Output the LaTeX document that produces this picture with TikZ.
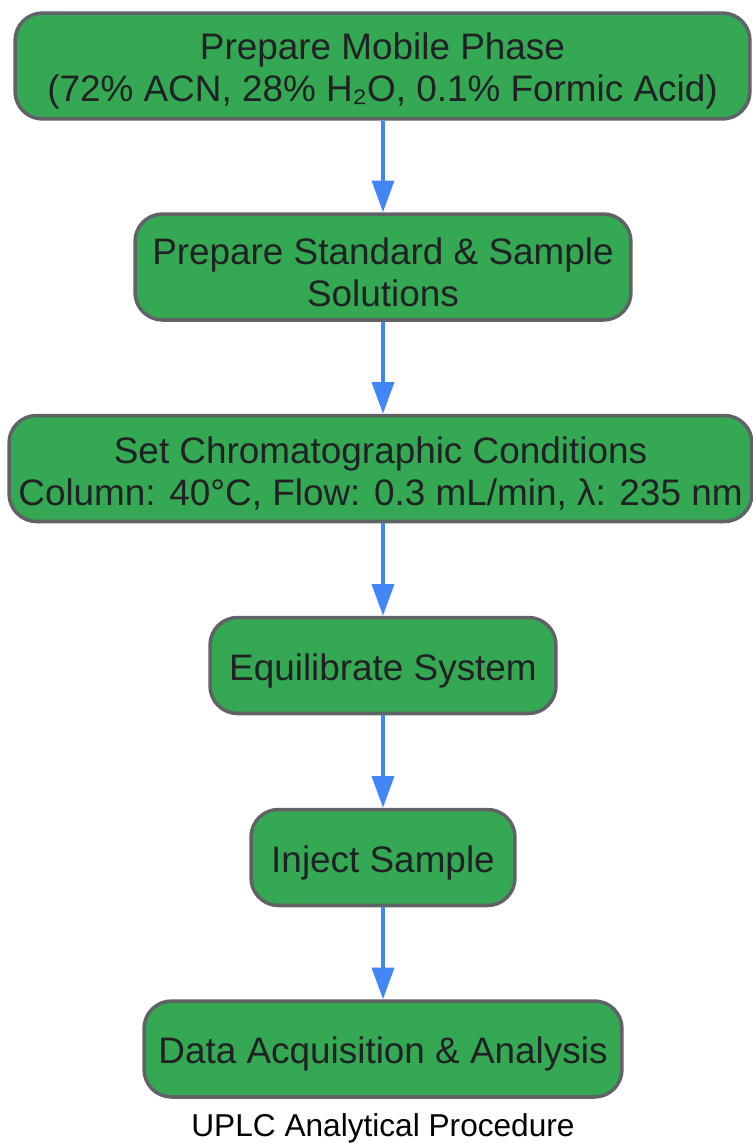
\documentclass[tikz,border=0pt]{standalone}
\usepackage{fontspec}
\setmainfont{Liberation Sans}
\usetikzlibrary{arrows.meta}
\definecolor{boxgreen}{HTML}{34A853}
\definecolor{boxedge}{HTML}{5F6368}
\definecolor{flowblue}{HTML}{4285F4}
\definecolor{inktext}{HTML}{202124}
\newcommand{\capstrut}{\rule{0pt}{21pt}}
\tikzset{
  stepnode/.style={draw=boxedge, fill=boxgreen, line width=2pt, rounded corners=0.55cm,
    text=inktext, align=center, inner ysep=5pt, minimum height=1.92cm,
    font=\fontsize{21}{23.8}\selectfont},
  twoline/.style={minimum height=2.12cm},
  flowarrow/.style={draw=flowblue, line width=2pt, -{Triangle[width=12.5pt,length=18pt]}}
}
\begin{document}
\begin{tikzpicture}[x=0.02cm, y=-0.02cm]
            \useasboundingbox (0,0) rectangle (752,1143);
            % The procedure steps, top to bottom
            \node [stepnode, twoline, minimum width=14.7cm] (mobile) at (382.5,66)
              {\capstrut Prepare Mobile Phase\\(72\% ACN, 28\% H₂O, 0.1\% Formic Acid)};
            \node [stepnode, twoline, minimum width=9.92cm] (solutions) at (383,267)
              {\capstrut Prepare Standard \& Sample\\Solutions};
            \node [stepnode, twoline, minimum width=14.86cm] (conditions) at (380.5,468.5)
              {\capstrut Set Chromatographic Conditions\\Column: 40°C, Flow: 0.3 mL/min, λ: 235 nm};
            \node [stepnode, minimum width=6.92cm] (equil) at (383,665.5) {\capstrut Equilibrate System};
            \node [stepnode, minimum width=5.28cm] (inject) at (383,857.5) {\capstrut Inject Sample};
            \node [stepnode, minimum width=9.56cm] (analysis) at (383,1049) {\capstrut Data Acquisition \& Analysis};

            % Arrows between consecutive steps, kept on one vertical line
            \foreach \a/\b in {mobile/solutions, solutions/conditions, conditions/equil,
                               equil/inject, inject/analysis} {
              \draw [flowarrow] (\a.south -| inject.center) -- (\b.north -| inject.center);
            }

            % Caption under the chart
            \node [font=\fontsize{18}{21}\selectfont] (caption) at (383,1128) {UPLC Analytical Procedure};
        \end{tikzpicture}
\end{document}
